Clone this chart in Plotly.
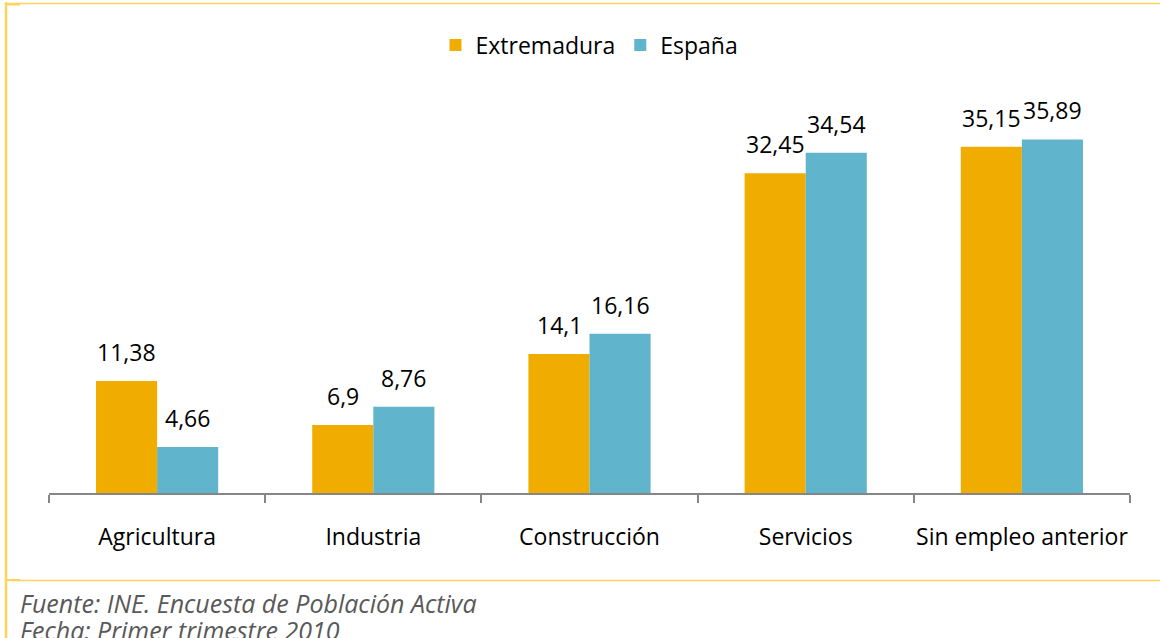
import plotly.graph_objects as go

categories = ["Agricultura", "Industria", "Construcción", "Servicios", "Sin empleo anterior"]
extremadura = [11.38, 6.9, 14.1, 32.45, 35.15]
espana = [4.66, 8.76, 16.16, 34.54, 35.89]
series_names = ["Extremadura", "España"]
source_lines = ["Fuente: INE. Encuesta de Población Activa", "Fecha: Primer trimestre 2010"]

W, H = 1160, 638
L, R, T, B = 49, 30, 99, 145
pw, ph = W - L - R, H - T - B

def px(x):
    return (x - L) / pw

def py(y):
    return (H - B - y) / ph

FONT = "Open Sans"
FS = 23
ORANGE = "#F0AD00"
BLUE = "#60B5CC"
GOLD = "#FFD35C"

fig = go.Figure()
fig.add_trace(go.Bar(name=series_names[0], x=categories, y=extremadura, marker_color=ORANGE,
                     marker_line_width=0))
fig.add_trace(go.Bar(name=series_names[1], x=categories, y=espana, marker_color=BLUE,
                     marker_line_width=0))

annotations = []
for vals, shift in ((extremadura, -30.5), (espana, 30.5)):
    for c, v in zip(categories, vals):
        annotations.append(dict(x=c, y=v, xref="x", yref="y", text=str(v).replace(".", ","),
                                showarrow=False, xshift=shift, yshift=11, yanchor="bottom",
                                font=dict(family=FONT, size=FS, color="#000000")))

for i, line in enumerate(source_lines):
    annotations.append(dict(x=px(18), y=py(603 + i * 27), xref="paper", yref="paper",
                            text="<i>" + line + "</i>", showarrow=False, xanchor="left",
                            yanchor="middle", font=dict(family=FONT, size=25, color="#595959")))

shapes = [
    dict(type="line", xref="paper", yref="paper", x0=px(6), x1=px(6), y0=py(2), y1=py(640),
         line=dict(color=GOLD, width=2.5)),
    dict(type="line", xref="paper", yref="paper", x0=px(6), x1=px(1160), y0=py(3.5), y1=py(3.5),
         line=dict(color=GOLD, width=1.5)),
    dict(type="line", xref="paper", yref="paper", x0=px(6), x1=px(1160), y0=py(580.5), y1=py(580.5),
         line=dict(color=GOLD, width=1.5)),
    dict(type="line", xref="paper", yref="paper", x0=px(6), x1=px(20), y0=py(4.5), y1=py(4.5),
         line=dict(color=GOLD, width=2)),
    dict(type="line", xref="paper", yref="paper", x0=px(6), x1=px(20), y0=py(580), y1=py(580),
         line=dict(color=GOLD, width=2)),
]

fig.update_layout(
    width=W, height=H,
    margin=dict(l=L, r=R, t=T, b=B, autoexpand=False),
    paper_bgcolor="white", plot_bgcolor="white",
    barmode="group", bargap=0.435, bargroupgap=0,
    separators=",.",
    font=dict(family=FONT, size=FS, color="#000000"),
    legend=dict(orientation="h", x=0.5, xanchor="center", y=py(45), yanchor="middle",
                font=dict(family=FONT, size=FS, color="#000000"), itemwidth=30,
                bgcolor="rgba(0,0,0,0)"),
    annotations=annotations,
    shapes=shapes,
    showlegend=True,
)
fig.update_xaxes(showline=True, linecolor="#868686", linewidth=2, ticks="outside",
                 tickson="boundaries", ticklen=8, tickcolor="#868686", tickwidth=2,
                 tickangle=0, ticklabelstandoff=22,
                 tickfont=dict(family=FONT, size=FS, color="#000000"),
                 showgrid=False, zeroline=False)
fig.update_yaxes(range=[0, 40], visible=False, showgrid=False, zeroline=False)

fig.write_html("out.html", config={"displayModeBar": False},
               post_script="document.body.style.margin='0px';document.body.style.overflow='hidden';")
